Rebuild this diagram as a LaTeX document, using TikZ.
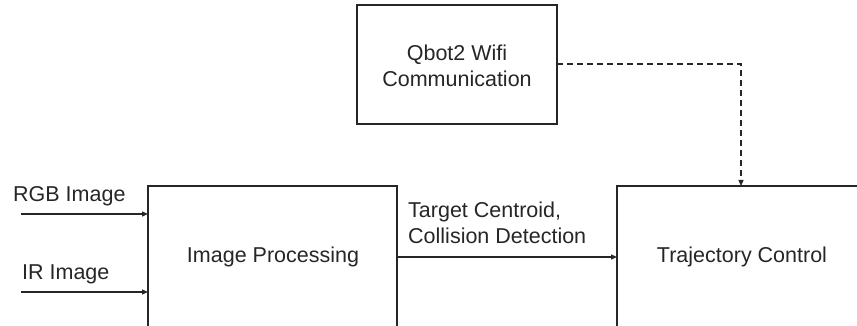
\documentclass[tikz,border=0pt]{standalone}
\usepackage{fontspec}
\setmainfont{Liberation Sans}
\usetikzlibrary{arrows.meta,positioning}
\begin{document}
\begin{tikzpicture}[x=1pt,y=-1pt,
  blk/.style={draw=black!85,line width=2pt,inner sep=0pt},
  conn/.style={draw=black!85,line width=1.2pt,-{Triangle[length=6pt,width=5pt]}},
  lbl/.style={inner sep=0pt,font=\fontsize{21.5}{26}\selectfont,text=black!85}]
\useasboundingbox (0,0) rectangle (857,326);
\clip (0,0) rectangle (857,326);
% boxes
\draw[blk] (148,340) -- (148,186) -- (397,186) -- (397,340);
\draw[blk] (617,340) -- (617,186) -- (870,186);
\draw[blk] (357,5) rectangle (557,124);
\coordinate (ipW) at (148,257);
\coordinate (ipE) at (397,257);
\coordinate (tcW) at (617,257);
\coordinate (tcN) at (741,186);
\coordinate (qbE) at (557,64);
\coordinate (rgbS) at (21,214);
\coordinate (rgbE) at (148,214);
\coordinate (irS) at (21,292);
\coordinate (irE) at (148,292);
% texts
\node[lbl] (ip) at (273,257) {Image Processing};
\node[lbl] (tc) at (742,257) {Trajectory Control};
\node[lbl,align=center] (qb) at (457,66) {Qbot2 Wifi\\Communication};
\node[lbl,anchor=west] (rgb) at (13,196) {RGB Image};
\node[lbl,anchor=west] (ir) at (22,274) {IR Image};
\node[lbl,anchor=west,align=left] (tgt) at (408,223) {Target Centroid,\\Collision Detection};
% connectors
\draw[conn] (rgbS) -- (rgbE);
\draw[conn] (irS) -- (irE);
\draw[conn] (ipE) -- (tcW);
\draw[conn,dash pattern=on 6pt off 4pt] (qbE) -| (tcN);
\end{tikzpicture}
\end{document}
